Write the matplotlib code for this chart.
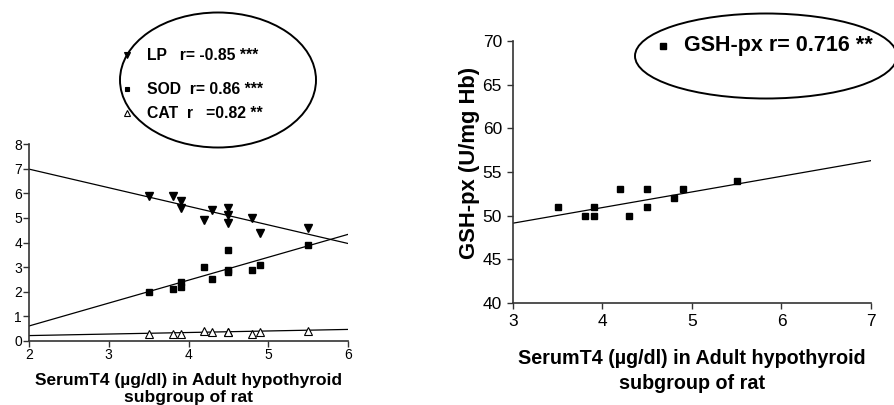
import numpy as np
import matplotlib
matplotlib.use('Agg')
import matplotlib.pyplot as plt
from matplotlib.patches import Ellipse
from matplotlib.lines import Line2D

plt.rcParams['font.family'] = ['Liberation Sans', 'DejaVu Sans']

# Left panel data: serum T4 vs LP / SOD / CAT
t4_left = [3.5, 3.8, 3.9, 3.9, 4.2, 4.3, 4.5, 4.5, 4.5, 4.8, 4.9, 5.5]
lp = [5.9, 5.9, 5.7, 5.4, 4.9, 5.3, 5.4, 5.1, 4.8, 5.0, 4.4, 4.6]
sod = [2.0, 2.1, 2.4, 2.2, 3.0, 2.5, 3.7, 2.9, 2.8, 2.9, 3.1, 3.9]
t4_cat = [3.5, 3.8, 3.9, 4.2, 4.3, 4.5, 4.5, 4.8, 4.9, 5.5]
cat = [0.3, 0.3, 0.3, 0.4, 0.35, 0.35, 0.35, 0.3, 0.35, 0.4]

# regression lines (intercept, slope)
lp_fit = (8.49, -0.755)
sod_fit = (-1.25, 0.93)
cat_fit = (0.095, 0.0625)

# Right panel data: serum T4 vs GSH-px
t4_right = [3.5, 3.8, 3.9, 3.9, 4.2, 4.3, 4.5, 4.5, 4.8, 4.9, 5.5]
gsh = [51, 50, 51, 50, 53, 50, 53, 51, 52, 53, 54]
gsh_fit = (43.77, 1.79)

xlabel = 'SerumT4 (\u00b5g/dl) in Adult hypothyroid\nsubgroup of rat'

W, H = 895, 405
fig = plt.figure(figsize=(W / 100, H / 100), dpi=100)

def ax_rect(l, t, r, b):
    return [l / W, 1 - b / H, (r - l) / W, (b - t) / H]

def style(ax, fs, pad):
    for s in ['top', 'right']:
        ax.spines[s].set_visible(False)
    for s in ['left', 'bottom']:
        ax.spines[s].set_color('#333333')
        ax.spines[s].set_linewidth(1.2)
    ax.tick_params(direction='out', length=4, width=1, color='#333333',
                   labelsize=fs, pad=pad)

# ---- left panel
ax1 = fig.add_axes(ax_rect(29, 144, 348, 341))
xs = np.array([2, 6])
ax1.plot(xs, lp_fit[0] + lp_fit[1] * xs, color='black', lw=0.9)
ax1.plot(xs, sod_fit[0] + sod_fit[1] * xs, color='black', lw=0.9)
ax1.plot(xs, cat_fit[0] + cat_fit[1] * xs, color='black', lw=0.9)
ax1.plot(t4_left, lp, 'v', color='black', ms=5.5, ls='none')
ax1.plot(t4_left, sod, 's', color='black', ms=3.8, ls='none')
ax1.plot(t4_cat, cat, '^', mfc='white', mec='black', mew=0.8, ms=6, ls='none')
ax1.set_xlim(2, 6)
ax1.set_ylim(0, 8)
ax1.set_xticks([2, 3, 4, 5, 6])
ax1.set_yticks(range(0, 9))
style(ax1, 10, 1)
ax1.set_xlabel(xlabel, fontsize=12.5, fontweight='bold', labelpad=8, linespacing=1.15)

# ---- right panel
ax2 = fig.add_axes(ax_rect(513, 41, 871, 303))
xs2 = np.array([3, 7])
ax2.plot(xs2, gsh_fit[0] + gsh_fit[1] * xs2, color='black', lw=0.9)
ax2.plot(t4_right, gsh, 's', color='black', ms=5, ls='none')
ax2.set_xlim(3, 7)
ax2.set_ylim(40, 70)
ax2.set_xticks([3, 4, 5, 6, 7])
ax2.set_yticks(range(40, 71, 5))
style(ax2, 12.5, 4)
ax2.set_xlabel(xlabel, fontsize=14.2, fontweight='bold', labelpad=14, linespacing=1.4)
ax2.set_ylabel('GSH-px (U/mg Hb)', fontsize=15.8, fontweight='bold')
ax2.yaxis.set_label_coords(-0.092, 0.536)

# ---- ellipse legends
def fx(x):
    return x / W

def fy(y):
    return 1 - y / H

fig.add_artist(Ellipse((fx(218), fy(80)), 196 / W, 135 / H, transform=fig.transFigure,
                       fill=False, lw=1.4, color='black'))
rows = [('v', 'black', 'LP   r= -0.85 ***', 55),
        ('s', 'black', 'SOD  r= 0.86 ***', 89),
        ('^', 'white', 'CAT  r   =0.82 **', 113)]
for mk, fc, txt, y in rows:
    fig.add_artist(Line2D([fx(127)], [fy(y)], marker=mk, mfc=fc, mec='black', mew=0.8,
                          ms=3.5 if mk == 's' else 4.5, ls='none', transform=fig.transFigure))
    fig.text(fx(147), fy(y), txt, fontsize=11.3, fontweight='bold', va='center', ha='left')

fig.add_artist(Ellipse((fx(766), fy(56)), 262 / W, 85 / H, transform=fig.transFigure,
                       fill=False, lw=1.4, color='black'))
fig.add_artist(Line2D([fx(663)], [fy(46)], marker='s', color='black', ms=4.5, ls='none',
                      transform=fig.transFigure))
fig.text(fx(684), fy(46), 'GSH-px r= 0.716 **', fontsize=15.5, fontweight='bold',
         va='center', ha='left')

fig.savefig('out.png', dpi=100)
